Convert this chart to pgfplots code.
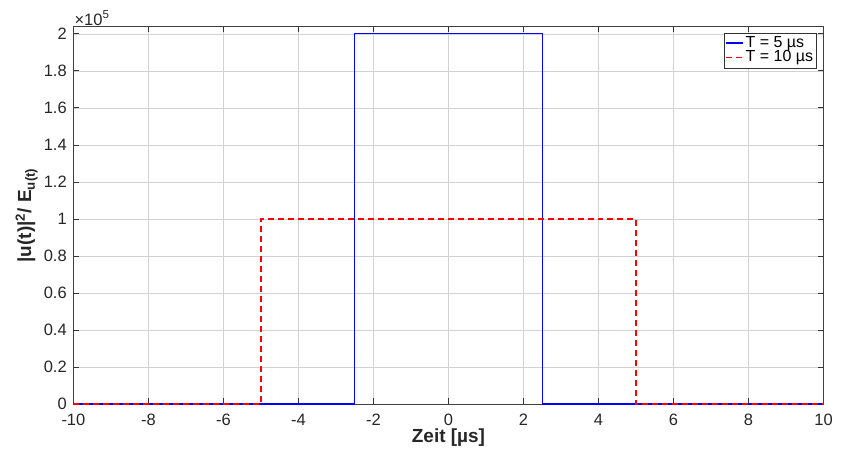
\documentclass[border=0pt]{standalone}
\usepackage{pgfplots}
\pgfplotsset{compat=1.18}
\usepackage{fontspec}
\setmainfont{Liberation Sans}
\begin{document}
\fontsize{16.5}{19}\selectfont
\begin{tikzpicture}
\begin{axis}[
  width=751pt, height=378pt, scale only axis,
  xmin=-10, xmax=10, ymin=0, ymax=204000,
  xtick={-10,-8,...,10},
  ytick={0,20000,40000,60000,80000,100000,120000,140000,160000,180000,200000},
  yticklabels={0,0.2,0.4,0.6,0.8,1,1.2,1.4,1.6,1.8,2},
  scaled y ticks=false,
  /pgf/number format/assume math mode=true,
  tick align=inside,
  major tick length=6pt,
  tick style={black!80, line width=0.8pt},
  axis line style={black!75, line width=0.9pt},
  grid=major,
  major grid style={gray!35, line width=0.6pt},
  ticklabel style={font=\fontsize{16.5}{19}\selectfont, text=black!85},
  xticklabel style={yshift=-4pt},
  yticklabel style={xshift=-1pt},
  xlabel={\textbf{Zeit [µs]}},
  ylabel={\textbf{|u(t)|\textsuperscript{2}/ E\textsubscript{u(t)}}},
  label style={font=\fontsize{19}{22}\selectfont, text=black!85},
  xlabel style={yshift=8pt},
  ylabel style={yshift=-5pt},
  legend style={at={(rel axis cs:0.991,0.984)}, anchor=north east,
    font=\fontsize{16}{17}\selectfont, draw=black!80, inner sep=1.5pt,
    row sep=-3pt},
  legend image code/.code={\draw[#1] (0cm,0cm) -- (0.6cm,0cm);},
  legend cell align=left,
  clip=false,
]
\addplot[blue, line width=1.2pt] coordinates {(-10,0) (-2.5,0) (-2.5,200000) (2.5,200000) (2.5,0) (10,0)};
\addlegendentry{T = 5 µs}
\addplot[red, line width=1.2pt, dash pattern=on 6pt off 4pt] coordinates {(-10,0) (-5,0) (-5,100000) (5,100000) (5,0) (10,0)};
\addlegendentry{T = 10 µs}
\node[anchor=south west, font=\fontsize{16.5}{19}\selectfont, text=black!85, inner sep=1pt] at (rel axis cs:0,1) {×10\textsuperscript{5}};
\end{axis}
\path (current axis.south west) ++(-73pt,-50pt) node[inner sep=0pt]{};
\path (current axis.north east) ++(18pt,26pt) node[inner sep=0pt]{};
\end{tikzpicture}
\end{document}
